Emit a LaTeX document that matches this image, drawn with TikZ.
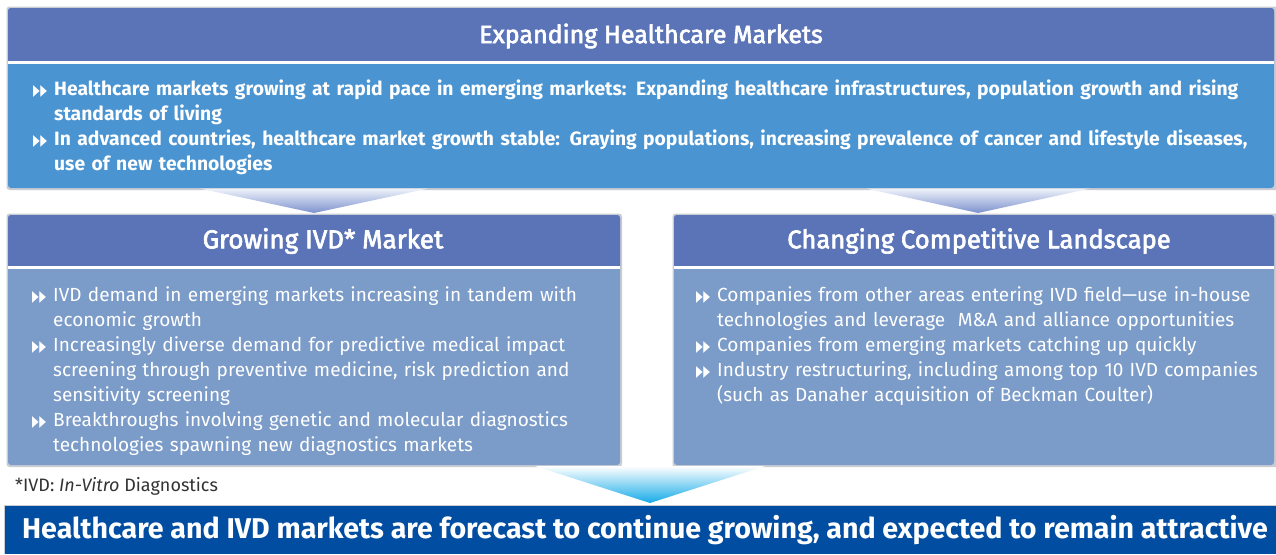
\documentclass[tikz,border=0pt]{standalone}
\usepackage{fontspec}
\setmainfont{Fira Sans}
\newfontfamily\symfont{DejaVu Sans}
\newfontfamily\hdrfont[FakeBold=2.5]{Fira Sans}
\usetikzlibrary{calc}

\definecolor{hdrblue}{HTML}{5A74B7}
\definecolor{topbody}{HTML}{4A94D1}
\definecolor{lowbody}{HTML}{7B9BC8}
\definecolor{banner}{HTML}{004DA1}
\definecolor{fadetop}{HTML}{EEF2FA}
\definecolor{fadebot}{HTML}{7C91CE}
\definecolor{cyanbot}{HTML}{16AAE8}
\definecolor{shadowgray}{HTML}{C9CDD3}
\definecolor{notegray}{HTML}{333333}

% double-triangle bullet and hanging list item
\newcommand\onetri{\scalebox{0.56}[1]{▶}}
\newcommand\dblbul{\raisebox{-0.3pt}{\symfont\fontsize{15.5}{15.5}\selectfont\onetri\kern0.4pt\onetri}}
\newcommand\bitem[1]{\par\hangindent=21pt\hangafter=1\noindent\makebox[21pt][l]{\dblbul}#1}

\tikzset{
  hdrtext/.style={text=white, inner sep=0pt},
  bodytext/.style={anchor=north west, inner sep=0pt, text=white},
  shadowbox/.style={fill=shadowgray, rounded corners=3pt},
}

\begin{document}
\begin{tikzpicture}[x=1pt,y=-1pt]
\useasboundingbox (0,0) rectangle (1276,554);
\fill[white] (0,0) rectangle (1276,554);

% ---- top box ----
\fill[shadowbox] (6.5,6.5) rectangle (1280,190);
\fill[topbody, rounded corners=3pt] (8,8) rectangle (1274,188);
\fill[hdrblue] (8,61) [rounded corners=3pt]-- (8,8) -- (1274,8) [sharp corners]-- (1274,61) -- cycle;
\fill[white] (8,61) rectangle (1274,63.5);
\node[hdrtext, font=\hdrfont\fontsize{25}{28}\selectfont] (tophdr) at (651,36) {Expanding Healthcare Markets};
\node[bodytext, text width=1236pt, font=\bfseries\fontsize{19.3}{25}\selectfont] (topbody) at (33,70)
{\raggedright
\bitem{Healthcare markets growing at rapid pace in emerging markets: Expanding healthcare infrastructures, population growth and rising\newline standards of living}
\bitem{In advanced countries, healthcare market growth stable: Graying populations, increasing prevalence of cancer and lifestyle diseases,\newline use of new technologies}\par};

% ---- arrows from top box ----
\shade[top color=fadetop, bottom color=fadebot] (200,188.5) -- (428,188.5) -- (314,213) -- cycle;
\shade[top color=fadetop, bottom color=fadebot] (866,188.5) -- (1090,188.5) -- (978,213) -- cycle;

% ---- left box ----
\fill[shadowbox] (6.5,213.5) rectangle (622,467);
\fill[lowbody, rounded corners=3pt] (8,215) rectangle (620,465);
\fill[hdrblue] (8,266) [rounded corners=3pt]-- (8,215) -- (620,215) [sharp corners]-- (620,266) -- cycle;
\fill[white] (8,266) rectangle (620,268.5);
\node[hdrtext, font=\hdrfont\fontsize{26}{28}\selectfont] (lefthdr) at (323,241) {Growing IVD* Market};
\node[bodytext, text width=590pt, font=\fontsize{19}{25}\selectfont] (leftbody) at (32,276)
{\raggedright
\bitem{IVD demand in emerging markets increasing in tandem with\newline economic growth}
\bitem{Increasingly diverse demand for predictive medical impact\newline screening through preventive medicine, risk prediction and\newline sensitivity screening}
\bitem{Breakthroughs involving genetic and molecular diagnostics\newline technologies spawning new diagnostics markets}\par};

% ---- right box ----
\fill[shadowbox] (672.5,213.5) rectangle (1280,467);
\fill[lowbody, rounded corners=3pt] (674,215) rectangle (1274,465);
\fill[hdrblue] (674,266) [rounded corners=3pt]-- (674,215) -- (1274,215) [sharp corners]-- (1274,266) -- cycle;
\fill[white] (674,266) rectangle (1274,268.5);
\node[hdrtext, font=\hdrfont\fontsize{25.6}{28}\selectfont] (righthdr) at (979,241) {Changing Competitive Landscape};
\node[bodytext, text width=590pt, font=\fontsize{19}{25}\selectfont] (rightbody) at (696,276)
{\raggedright
\bitem{Companies from other areas entering IVD field---use in-house\newline technologies and leverage\ \ M\&A and alliance opportunities}
\bitem{Companies from emerging markets catching up quickly}
\bitem{Industry restructuring, including among top 10 IVD companies\newline (such as Danaher acquisition of Beckman Coulter)}\par};

% ---- footnote ----
\node[anchor=west, inner sep=0pt, text=notegray, font=\fontsize{18}{20}\selectfont] (note) at (15,486) {*IVD: \textit{In-Vitro} Diagnostics};

% ---- arrow into conclusion ----
\shade[top color=white, bottom color=cyanbot] (535,466) -- (765,466) -- (650,503) -- cycle;

% ---- conclusion banner ----
\fill[shadowgray] (4,504.5) rectangle (1276,554);
\fill[banner] (5,506) rectangle (1276,554);
\node[anchor=west, inner sep=0pt, text=white, font=\bfseries\fontsize{28.6}{32}\selectfont] (concl) at (22,530)
{Healthcare and IVD markets are forecast to continue growing, and expected to remain attractive};
\end{tikzpicture}
\end{document}
